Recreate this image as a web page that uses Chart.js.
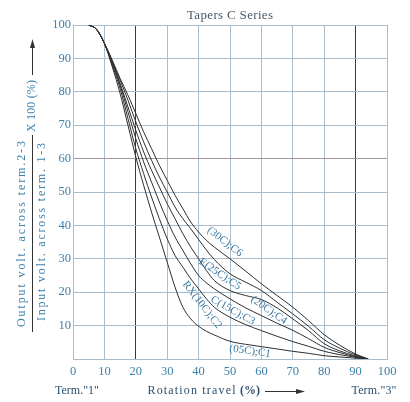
<!DOCTYPE html>
<html>
<head>
<meta charset="utf-8">
<script src="https://cdn.jsdelivr.net/npm/chart.js@4"></script>
<style>
  html, body { margin: 0; padding: 0; background: #ffffff; }
  #wrap { width: 410px; height: 402px; }
</style>
</head>
<body>
<div id="wrap"><canvas id="c" width="410" height="402"></canvas></div>
<script>
// ---- data ----
const travel = [5, 7.5, 10, 12.5, 15, 17.5, 20, 22.5, 25, 27.5, 30, 32.5, 35, 37.5, 40, 42.5, 45, 50, 55, 60, 65, 70, 75, 80, 85, 90, 94];
const c1_05C = [100, 98.7, 94.5, 87.5, 79.5, 70, 60.5, 52, 44, 36.5, 29, 21.5, 15.5, 12, 9.8, 8.3, 7.2, 5.3, 4.4, 3.7, 3, 2.3, 1.7, 1.0, 0.6, 0.25, 0];
const c2_10C = [100, 98.7, 94.5, 88, 81, 72, 63, 55.5, 48.5, 42, 36, 31, 27.5, 24, 21, 18, 15.5, 12.5, 10.3, 8.5, 6.8, 5.2, 3.8, 2.3, 1.3, 0.5, 0];
const c3_15C = [100, 98.7, 94.5, 88.5, 82, 74, 66, 59, 53, 47, 41.5, 36.5, 32.5, 28.5, 25, 22.8, 21, 18, 15.3, 13, 10.7, 8.6, 6.1, 3.5, 1.9, 0.7, 0];
const c4_20C = [100, 98.7, 94.5, 89, 82.5, 75.5, 68.5, 62, 56.5, 51.5, 46.5, 42, 37.5, 33.5, 30, 26.5, 23.5, 20.5, 19, 17.8, 15.3, 12, 8.5, 4.6, 2.4, 0.9, 0];
const c5_25C = [100, 98.7, 94.5, 89, 83.5, 77.5, 71, 65, 59.5, 54.5, 50, 45.5, 42, 39, 35.8, 32.6, 29.8, 25.5, 23, 20.5, 17, 13.5, 9.8, 5.8, 3.2, 1.2, 0];
const c6_30C = [100, 98.7, 94.5, 89.5, 84, 79, 73.5, 68, 63, 58, 53.5, 49, 45, 41, 38, 35.5, 33.5, 30, 26.3, 22.5, 19, 15.5, 11.5, 7.3, 4.1, 1.5, 0];
const seriesNames = ['(05C);C1', 'RX(10C);C2', 'C(15C);C3', '(20C);C4', 'E(25C);C5', '(30C);C6'];
const xTicks = [0, 10, 20, 30, 40, 50, 60, 70, 80, 90, 100];
const yTicks = [10, 20, 30, 40, 50, 60, 70, 80, 90, 100];
// curve-label anchor points, in data units
const labelX = [56.4, 41.1, 50.9, 62.4, 46.8, 48.4];
const labelY = [2.3, 16.2, 14.5, 14.6, 25.4, 35.1];
const labelRot = [8, 52, 29, 35, 34, 38];

const allSeries = [c1_05C, c2_10C, c3_15C, c4_20C, c5_25C, c6_30C];

const SERIF = '"Liberation Serif", "DejaVu Serif", serif';
const GRID = '#a9bdcc';
const DARK = '#3a3a3a';
const BLUE = '#3d80a9';
const NAVY = '#2c4f70';

function spaced(ctx, text, cx, cy, targetW) {
  ctx.letterSpacing = '0px';
  const w = ctx.measureText(text).width;
  let ls = 0;
  if (text.length > 1) ls = (targetW - w) / (text.length - 1);
  try { ctx.letterSpacing = ls.toFixed(2) + 'px'; } catch (e) {}
  ctx.textAlign = 'left';
  ctx.textBaseline = 'middle';
  ctx.fillText(text, cx - targetW / 2, cy);
  ctx.letterSpacing = '0px';
}

const textPlugin = {
  id: 'texts',
  afterDraw(chart) {
    const ctx = chart.ctx;
    const xs = chart.scales.x, ys = chart.scales.y;
    ctx.save();
    // title
    ctx.fillStyle = '#4b5a66';
    ctx.font = '13px ' + SERIF;
    spaced(ctx, 'Tapers C Series', 230, 16, 86);

    // curve labels
    ctx.fillStyle = '#3a78a0';
    ctx.font = '11px ' + SERIF;
    for (let i = 0; i < seriesNames.length; i++) {
      const px = xs.getPixelForValue(labelX[i]);
      const py = ys.getPixelForValue(labelY[i]);
      ctx.save();
      ctx.translate(px, py);
      ctx.rotate(labelRot[i] * Math.PI / 180);
      ctx.textAlign = 'center';
      ctx.textBaseline = 'middle';
      ctx.fillText(seriesNames[i], 0, 0);
      ctx.restore();
    }

    // y axis title (rotated)
    ctx.font = '12px ' + SERIF;
    ctx.fillStyle = BLUE;
    const vtext = (t, x, cy, w) => {
      ctx.save();
      ctx.translate(x, cy);
      ctx.rotate(-Math.PI / 2);
      spaced(ctx, t, 0, 0, w);
      ctx.restore();
    };
    vtext('Output volt. across term.2-3', 22, 234, 186);
    vtext('Input volt. across term. 1-3', 42, 232, 178);
    vtext('X 100 (%)', 32, 106, 52);
    ctx.strokeStyle = '#333';
    ctx.lineWidth = 1;
    ctx.beginPath();
    ctx.moveTo(32.5, 135); ctx.lineTo(32.5, 332);
    ctx.moveTo(32.5, 75); ctx.lineTo(32.5, 46);
    ctx.stroke();
    ctx.fillStyle = '#333';
    ctx.beginPath();
    ctx.moveTo(32.5, 39); ctx.lineTo(30, 48); ctx.lineTo(35, 48); ctx.closePath();
    ctx.fill();

    // bottom texts
    ctx.fillStyle = NAVY;
    ctx.font = '12px ' + SERIF;
    spaced(ctx, 'Term."1"', 77, 391, 44);
    spaced(ctx, 'Rotation travel', 191.5, 391, 88);
    ctx.font = 'bold 12px ' + SERIF;
    ctx.textAlign = 'left';
    ctx.textBaseline = 'middle';
    ctx.fillText('(%)', 240, 391);
    ctx.font = '12px ' + SERIF;
    spaced(ctx, 'Term."3"', 374, 391, 45);
    ctx.strokeStyle = '#333';
    ctx.beginPath();
    ctx.moveTo(265, 391.5); ctx.lineTo(298, 391.5);
    ctx.stroke();
    ctx.fillStyle = '#333';
    ctx.beginPath();
    ctx.moveTo(305, 391.5); ctx.lineTo(296, 389); ctx.lineTo(296, 394); ctx.closePath();
    ctx.fill();
    ctx.restore();
  }
};

const datasets = allSeries.map((ys, i) => ({
  label: seriesNames[i],
  data: travel.map((x, j) => ({ x: x, y: ys[j] })),
  borderColor: '#2e2e2e',
  borderWidth: 1,
  pointRadius: 0,
  fill: false,
  cubicInterpolationMode: 'monotone'
}));

new Chart(document.getElementById('c'), {
  type: 'line',
  data: { datasets },
  options: {
    responsive: false,
    animation: false,
    devicePixelRatio: 1,
    layout: { padding: { left: 0, right: 23, top: 25, bottom: 0 } },
    plugins: { legend: { display: false }, tooltip: { enabled: false }, title: { display: false } },
    scales: {
      x: {
        type: 'linear', min: 0, max: 100,
        afterFit: s => { s.height = 43; },
        afterBuildTicks: s => { s.ticks = xTicks.map(v => ({ value: v })); },
        border: { display: true, color: GRID, width: 1 },
        grid: {
          drawTicks: false,
          lineWidth: 1,
          color: c => (c.tick && (c.tick.value === 20 || c.tick.value === 90)) ? DARK : GRID
        },
        ticks: { padding: 5, color: BLUE, font: { family: SERIF, size: 12.5 }, autoSkip: false, maxRotation: 0 }
      },
      y: {
        type: 'linear', min: 0, max: 100,
        afterFit: s => { s.width = 73; },
        afterBuildTicks: s => { s.ticks = [0].concat(yTicks).map(v => ({ value: v })); },
        border: { display: true, color: GRID, width: 1 },
        grid: {
          drawTicks: false,
          lineWidth: 1,
          color: c => (c.tick && c.tick.value === 60) ? '#a3969c' : GRID
        },
        ticks: {
          padding: 2, color: BLUE, font: { family: SERIF, size: 12.5 }, autoSkip: false,
          callback: v => (yTicks.includes(v) ? String(v) : '')
        }
      }
    }
  },
  plugins: [textPlugin]
});
</script>
</body>
</html>
